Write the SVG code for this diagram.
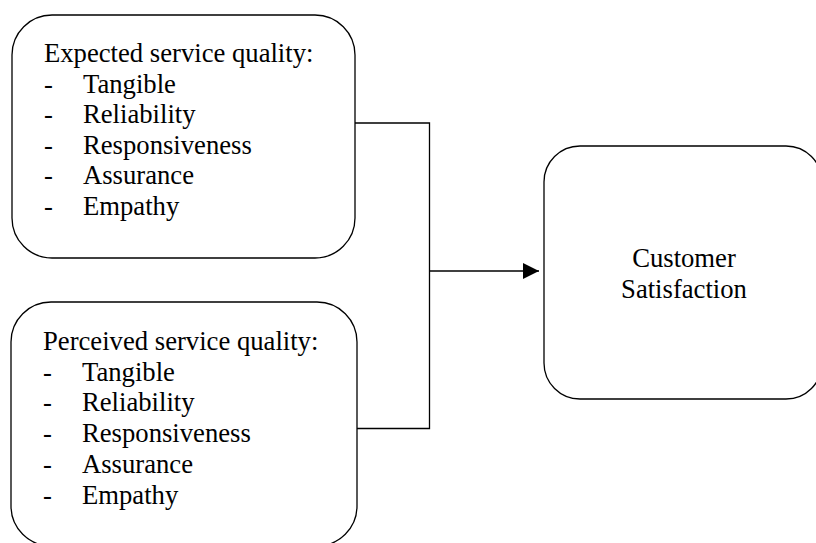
<svg xmlns="http://www.w3.org/2000/svg" width="816" height="543" viewBox="0 0 816 543">
  <style>
    .box { fill: #ffffff; stroke: #000000; stroke-width: 1.3; }
    .lbl { font-family: "Liberation Serif", "Times New Roman", serif; font-size: 26.67px; fill: #000000; }
    .mid { text-anchor: middle; }
    .wire { fill: none; stroke: #000000; stroke-width: 1.3; }
  </style>
  <defs>
    <marker id="arrowhead" markerWidth="16" markerHeight="16" refX="16" refY="8" orient="auto" markerUnits="userSpaceOnUse">
      <path d="M0,0 L16,8 L0,16 Z" fill="#000000"/>
    </marker>
  </defs>

  <!-- connectors: both quality boxes join a bus that feeds satisfaction -->
  <g id="connectors">
    <polyline class="wire" points="355,123 429.5,123 429.5,428.5 357,428.5"/>
    <line class="wire" x1="429.5" y1="271" x2="539" y2="271" marker-end="url(#arrowhead)"/>
  </g>

  <g id="expected">
    <rect class="box" x="12" y="15" width="343" height="243" rx="40" ry="40"/>
    <text class="lbl" x="44" y="62">Expected service quality:</text>
    <text class="lbl" x="44" y="92.5">-</text><text class="lbl" x="83" y="92.5">Tangible</text>
    <text class="lbl" x="44" y="123">-</text><text class="lbl" x="83" y="123">Reliability</text>
    <text class="lbl" x="44" y="153.5">-</text><text class="lbl" x="83" y="153.5">Responsiveness</text>
    <text class="lbl" x="44" y="184">-</text><text class="lbl" x="83" y="184">Assurance</text>
    <text class="lbl" x="44" y="214.5">-</text><text class="lbl" x="83" y="214.5">Empathy</text>
  </g>

  <g id="perceived">
    <rect class="box" x="11" y="302" width="346" height="244" rx="40" ry="40"/>
    <text class="lbl" x="43" y="350">Perceived service quality:</text>
    <text class="lbl" x="43" y="380.7">-</text><text class="lbl" x="82" y="380.7">Tangible</text>
    <text class="lbl" x="43" y="411.4">-</text><text class="lbl" x="82" y="411.4">Reliability</text>
    <text class="lbl" x="43" y="442">-</text><text class="lbl" x="82" y="442">Responsiveness</text>
    <text class="lbl" x="43" y="472.8">-</text><text class="lbl" x="82" y="472.8">Assurance</text>
    <text class="lbl" x="43" y="503.5">-</text><text class="lbl" x="82" y="503.5">Empathy</text>
  </g>

  <g id="satisfaction">
    <rect class="box" x="544" y="146" width="278" height="253" rx="36" ry="36"/>
    <text class="lbl mid" x="684" y="267">Customer</text>
    <text class="lbl mid" x="684" y="297.5">Satisfaction</text>
  </g>
</svg>
